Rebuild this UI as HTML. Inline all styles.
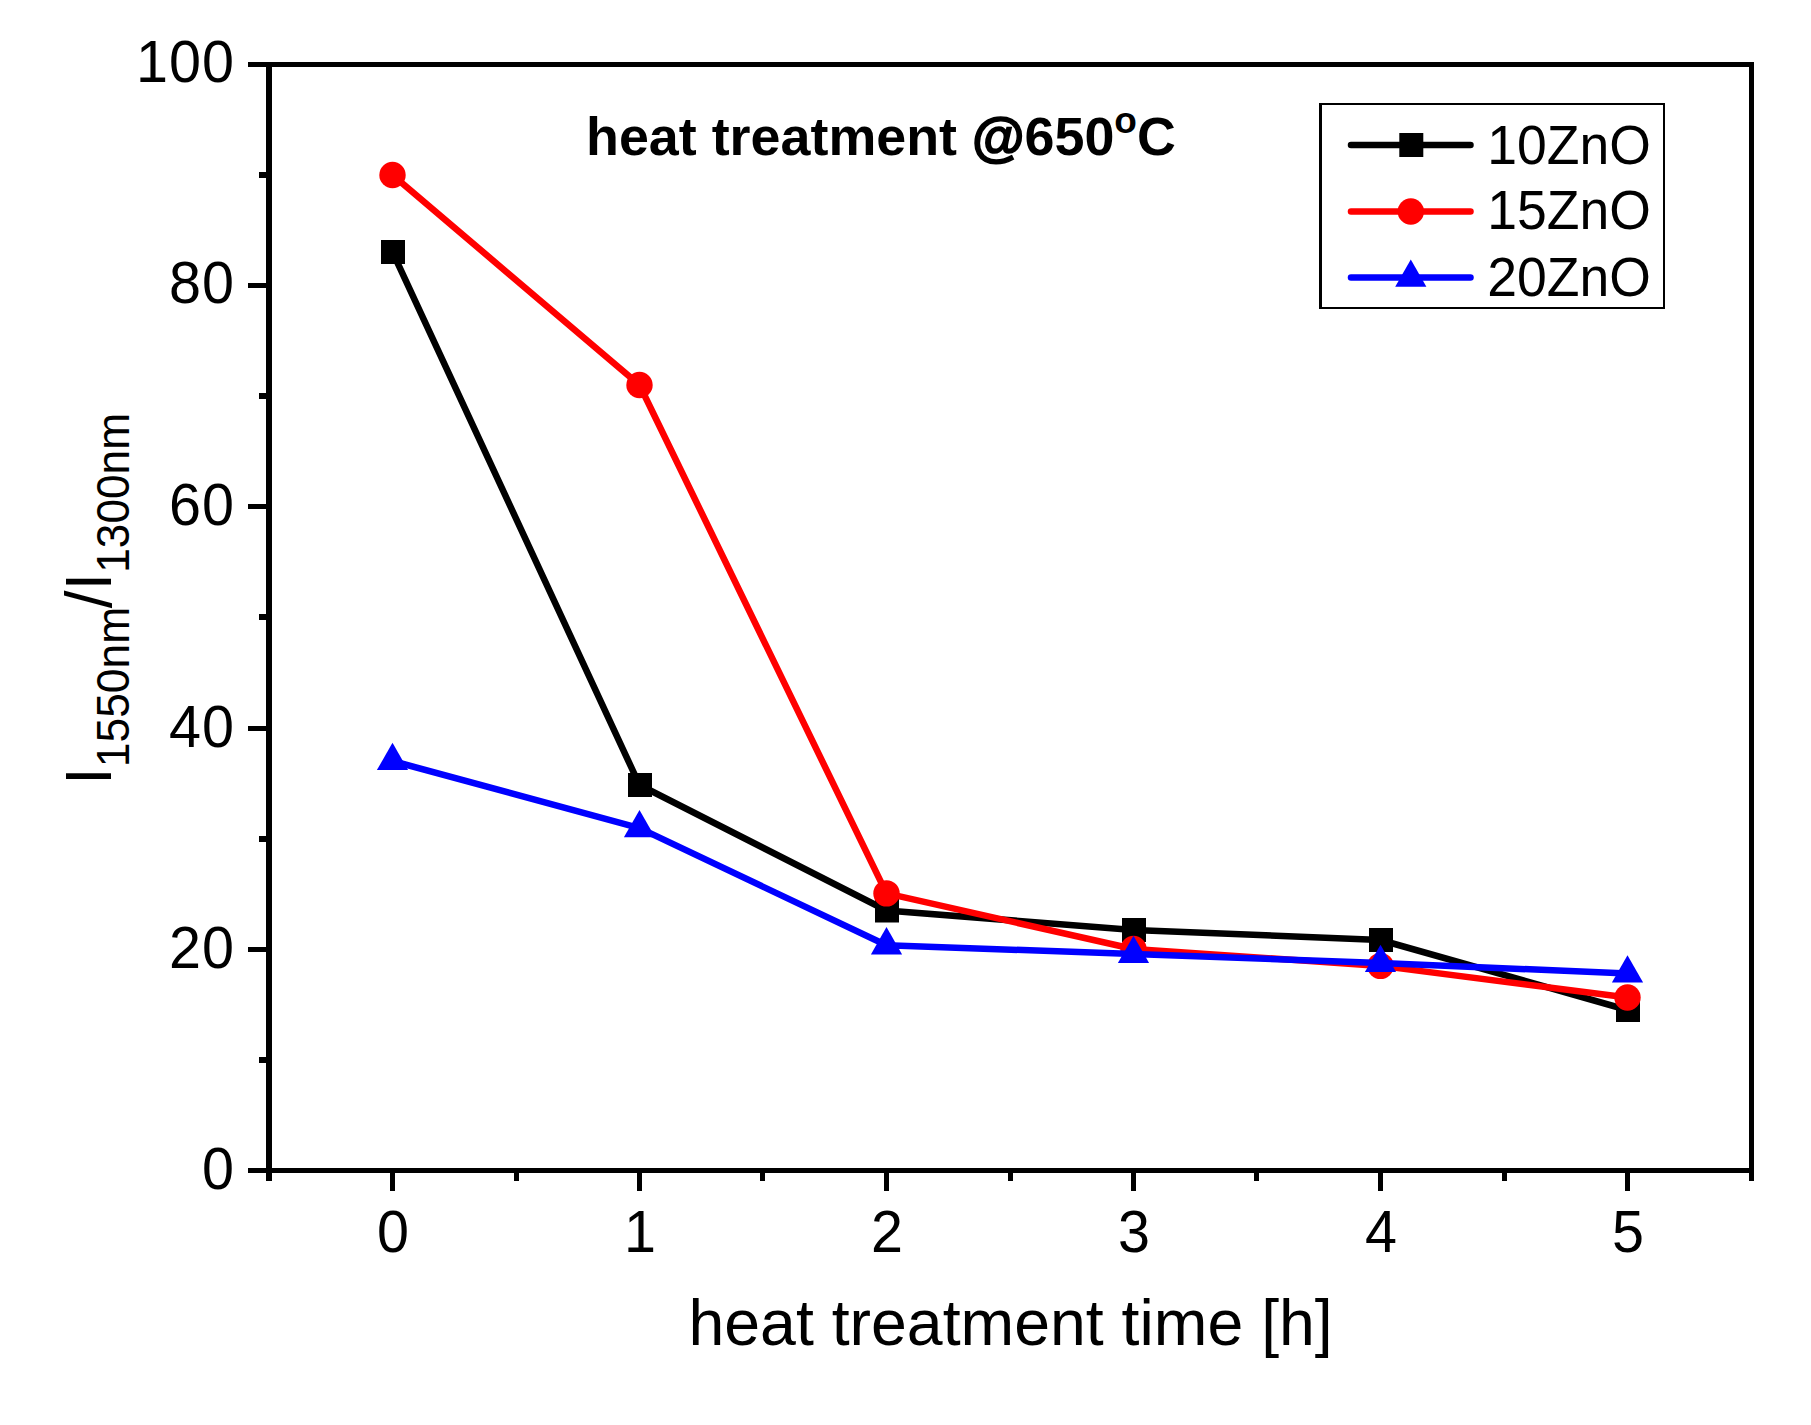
<!DOCTYPE html>
<html lang="en"><head><meta charset="utf-8"><title>heat treatment @650 C</title>
<style>
html,body{margin:0;padding:0;background:#fff;}
body{width:1811px;height:1425px;overflow:hidden;}
svg{display:block;}
text{font-family:"Liberation Sans",sans-serif;fill:#000;}
</style></head><body>
<svg width="1811" height="1425" viewBox="0 0 1811 1425">
<rect x="0" y="0" width="1811" height="1425" fill="#fff"/>
<g fill="none" stroke-linejoin="round" stroke-linecap="round">
<polyline points="392.5,252.0 639.5,785.0 886.5,910.5 1133.5,930.0 1380.5,940.0 1627.5,1010.0" stroke="#000000" stroke-width="6.5"/>
<rect x="381.0" y="240.0" width="24" height="24" fill="#000000" stroke="none"/>
<rect x="628.0" y="773.0" width="24" height="24" fill="#000000" stroke="none"/>
<rect x="875.0" y="898.5" width="24" height="24" fill="#000000" stroke="none"/>
<rect x="1122.0" y="918.0" width="24" height="24" fill="#000000" stroke="none"/>
<rect x="1369.0" y="928.0" width="24" height="24" fill="#000000" stroke="none"/>
<rect x="1616.0" y="998.0" width="24" height="24" fill="#000000" stroke="none"/>
<polyline points="392.5,175.0 639.5,385.0 886.5,893.4 1133.5,949.0 1380.5,965.9 1627.5,997.5" stroke="#ff0000" stroke-width="6.5"/>
<circle cx="392.5" cy="175.0" r="13.2" fill="#ff0000" stroke="none"/>
<circle cx="639.5" cy="385.0" r="13.2" fill="#ff0000" stroke="none"/>
<circle cx="886.5" cy="893.4" r="13.2" fill="#ff0000" stroke="none"/>
<circle cx="1133.5" cy="949.0" r="13.2" fill="#ff0000" stroke="none"/>
<circle cx="1380.5" cy="965.9" r="13.2" fill="#ff0000" stroke="none"/>
<circle cx="1627.5" cy="997.5" r="13.2" fill="#ff0000" stroke="none"/>
<polyline points="392.5,761.0 639.5,828.1 886.5,945.3 1133.5,954.0 1380.5,962.9 1627.5,973.5" stroke="#0000ff" stroke-width="6.5"/>
<polygon points="392.5,742.8 408.1,770.1 376.9,770.1" fill="#0000ff" stroke="none"/>
<polygon points="639.5,809.9 655.1,837.2 623.9,837.2" fill="#0000ff" stroke="none"/>
<polygon points="886.5,927.1 902.1,954.4 870.9,954.4" fill="#0000ff" stroke="none"/>
<polygon points="1133.5,935.8 1149.1,963.1 1117.9,963.1" fill="#0000ff" stroke="none"/>
<polygon points="1380.5,944.7 1396.1,972.0 1364.9,972.0" fill="#0000ff" stroke="none"/>
<polygon points="1627.5,955.3 1643.1,982.6 1611.9,982.6" fill="#0000ff" stroke="none"/>
</g>
<g fill="#000" shape-rendering="crispEdges">
<rect x="266" y="62" width="6" height="1119"/>
<rect x="1749" y="62" width="5" height="1119"/>
<rect x="248" y="62" width="1506" height="5"/>
<rect x="248" y="1168" width="1506" height="5"/>
<rect x="248" y="283" width="18" height="5"/>
<rect x="248" y="504" width="18" height="5"/>
<rect x="248" y="726" width="18" height="5"/>
<rect x="248" y="947" width="18" height="5"/>
<rect x="259" y="172" width="7" height="6"/>
<rect x="259" y="393" width="7" height="6"/>
<rect x="259" y="614" width="7" height="6"/>
<rect x="259" y="836" width="7" height="6"/>
<rect x="259" y="1057" width="7" height="6"/>
<rect x="390" y="1173" width="5" height="18"/>
<rect x="637" y="1173" width="5" height="18"/>
<rect x="884" y="1173" width="5" height="18"/>
<rect x="1131" y="1173" width="5" height="18"/>
<rect x="1378" y="1173" width="5" height="18"/>
<rect x="1625" y="1173" width="5" height="18"/>
<rect x="514" y="1173" width="5" height="8"/>
<rect x="760" y="1173" width="5" height="8"/>
<rect x="1008" y="1173" width="5" height="8"/>
<rect x="1254" y="1173" width="5" height="8"/>
<rect x="1502" y="1173" width="5" height="8"/>
</g>
<g font-size="57.5" letter-spacing="1">
<text transform="translate(235,1188.9) scale(1,1.02)" text-anchor="end">0</text>
<text transform="translate(235,967.9) scale(1,1.02)" text-anchor="end">20</text>
<text transform="translate(235,746.9) scale(1,1.02)" text-anchor="end">40</text>
<text transform="translate(235,524.9) scale(1,1.02)" text-anchor="end">60</text>
<text transform="translate(235,302.9) scale(1,1.02)" text-anchor="end">80</text>
<text transform="translate(235,81.9) scale(1,1.02)" text-anchor="end">100</text>
<text transform="translate(393.5,1252) scale(1,1.02)" text-anchor="middle">0</text>
<text transform="translate(640.5,1252) scale(1,1.02)" text-anchor="middle">1</text>
<text transform="translate(887.5,1252) scale(1,1.02)" text-anchor="middle">2</text>
<text transform="translate(1134.5,1252) scale(1,1.02)" text-anchor="middle">3</text>
<text transform="translate(1381.5,1252) scale(1,1.02)" text-anchor="middle">4</text>
<text transform="translate(1628.5,1252) scale(1,1.02)" text-anchor="middle">5</text>
</g>
<text x="688.5" y="1345.2" font-size="64.4">heat treatment time [h]</text>
<text transform="translate(111.1,785) rotate(-90) scale(1,1.025)" font-size="64">I<tspan font-size="44.4" dy="17.85">1550nm</tspan><tspan dy="-17.85" dx="-1.5">/I</tspan><tspan font-size="44.2" dy="17.85">1300nm</tspan></text>
<text x="586" y="154.5" font-size="53.85" font-weight="bold">heat treatment <tspan stroke="#000" stroke-width="1.6">@</tspan>650<tspan font-size="37" dy="-21.6">o</tspan><tspan dy="21.6">C</tspan></text>
<g fill="#000" shape-rendering="crispEdges"><rect x="1319" y="103" width="3" height="206"/><rect x="1663" y="103" width="2" height="206"/><rect x="1319" y="103" width="346" height="2"/><rect x="1319" y="307" width="346" height="2"/></g>
<line x1="1351" y1="145" x2="1470.5" y2="145" stroke="#000000" stroke-width="6.5" stroke-linecap="round"/>
<rect x="1399.3" y="133.0" width="24" height="24" fill="#000000" stroke="none"/>
<line x1="1351" y1="211.5" x2="1470.5" y2="211.5" stroke="#ff0000" stroke-width="6.5" stroke-linecap="round"/>
<circle cx="1410.8" cy="211.5" r="13.2" fill="#ff0000" stroke="none"/>
<line x1="1351" y1="277.5" x2="1470.5" y2="277.5" stroke="#0000ff" stroke-width="6.5" stroke-linecap="round"/>
<polygon points="1410.8,259.5 1426.4,286.8 1395.2,286.8" fill="#0000ff" stroke="none"/>
<text transform="translate(1487.3,163.7) scale(1,1.04)" font-size="53.5">10ZnO</text>
<text transform="translate(1487.3,229.4) scale(1,1.04)" font-size="53.5">15ZnO</text>
<text transform="translate(1487.3,296.4) scale(1,1.04)" font-size="53.5">20ZnO</text>
</svg></body></html>
